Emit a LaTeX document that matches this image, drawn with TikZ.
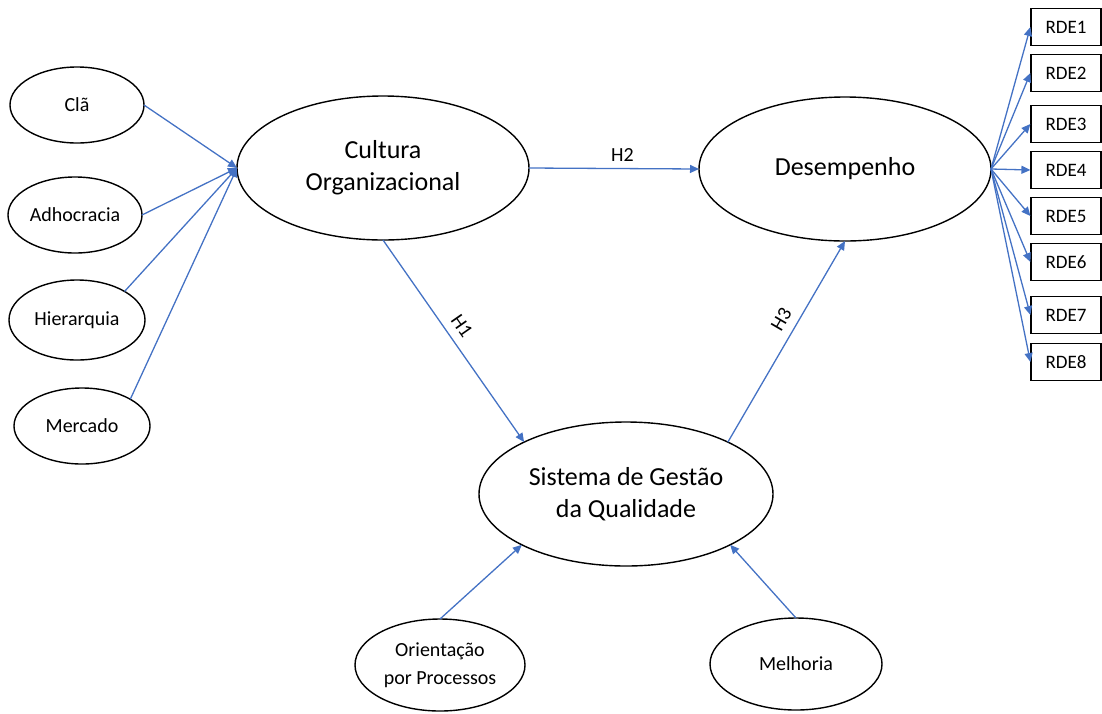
\documentclass[tikz,border=0pt]{standalone}
\usepackage{fontspec}
\setmainfont{Carlito}
\usetikzlibrary{arrows.meta,shapes.geometric}
\definecolor{linkblue}{RGB}{68,114,196}

\begin{document}
\begin{tikzpicture}[x=1pt,y=-1pt,
  construct/.style={ellipse,draw=black,line width=1.4pt,inner sep=0pt,
    outer sep=0pt,align=center,font=\fontsize{26}{32}\selectfont},
  dim/.style={construct,font=\fontsize{20}{28}\selectfont},
  item/.style={rectangle,draw=black,line width=1.2pt,minimum width=70pt,
    minimum height=37pt,inner sep=0pt,font=\fontsize{19}{23}\selectfont},
  arr/.style={-{Triangle[length=9pt,width=8pt]},draw=linkblue,line width=1.3pt},
  lbl/.style={font=\fontsize{20}{24}\selectfont}]
\useasboundingbox (0,0) rectangle (1102,713);

\node[construct,minimum width=292pt,minimum height=144pt] (cult) at (383,168)
  {Cultura\\Organizacional};
\node[construct,minimum width=292pt,minimum height=144pt] (desemp) at (845,169)
  {Desempenho};
\node[construct,minimum width=294pt,minimum height=144pt] (sgq) at (626,494)
  {Sistema de Gestão\\da Qualidade};

% culture types
\node[dim,minimum width=134pt,minimum height=76pt] (cla) at (77,105) {Clã};
\node[dim,minimum width=134pt,minimum height=76pt] (adh) at (75,215) {Adhocracia};
\node[dim,minimum width=136pt,minimum height=80pt] (hier) at (77,320) {Hierarquia};
\node[dim,minimum width=136pt,minimum height=76pt] (merc) at (82,426) {Mercado};

% quality system dimensions
\node[dim,minimum width=170pt,minimum height=92pt] (ori) at (440,665)
  {Orientação\\por Processos};
\node[dim,minimum width=172pt,minimum height=92pt] (melh) at (796,664) {Melhoria};

\draw[arr] (cla.east) -- (cult.west);
\draw[arr] (adh.east) -- (cult.west);
\draw[arr] (hier.31) -- (cult.west);
\draw[arr] (merc.29) -- (cult.west);

\draw[arr] (cult.east) -- (desemp.west) node[lbl,pos=0.55,above=3pt] {H2};
\draw[arr] (cult.south) -- (sgq.153) node[lbl,pos=0.47,sloped,above=5pt] {H1};
\draw[arr] (sgq.27) -- (desemp.south) node[lbl,pos=0.57,sloped,above=5pt] {H3};

\draw[arr] (ori.north) -- (sgq.206);
\draw[arr] (melh.north) -- (sgq.334);

% performance indicators
\foreach \i/\y in {1/27,2/73,3/124,4/170,5/216,6/262,7/315,8/362} {
  \node[item] (rde\i) at (1066,\y) {RDE\i};
  \draw[arr] (desemp.east) -- (rde\i.west);
}
\end{tikzpicture}
\end{document}
